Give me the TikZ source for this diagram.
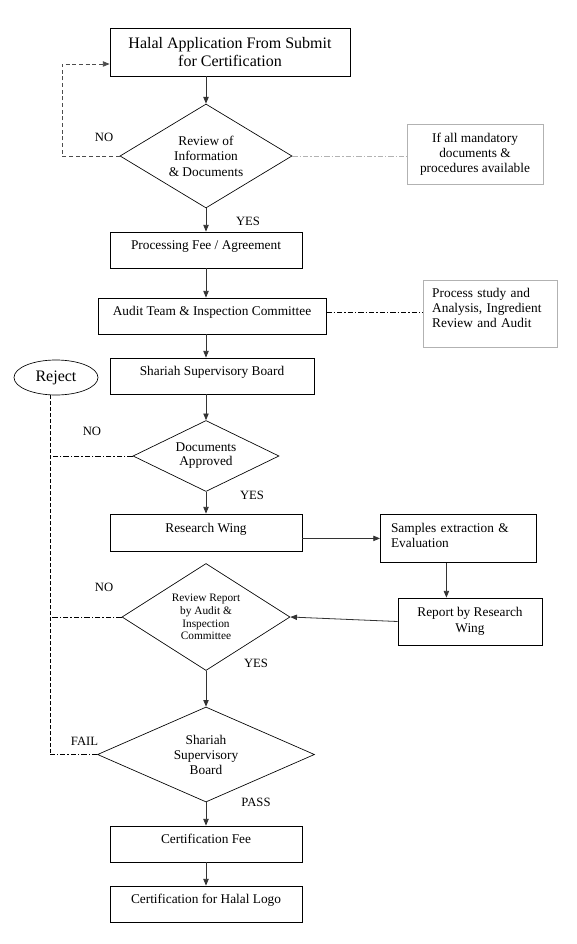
\documentclass[tikz,border=0pt]{standalone}
\usepackage{fontspec}
\setmainfont{Liberation Serif}
\usepackage{tikz}
\usetikzlibrary{shapes.geometric,arrows.meta}

\begin{document}
\begin{tikzpicture}[x=0.75pt,y=-0.75pt,
    font=\fontsize{10}{11.5}\selectfont,
    >={Triangle[length=5pt,width=4pt]},
    box/.style={draw, line width=0.6pt, inner sep=0pt},
    onel/.style={box, text height=7pt, text depth=7.5pt},
    dia/.style={draw, diamond, line width=0.5pt, inner sep=0pt, align=center},
    note/.style={draw=black!30, line width=0.6pt, inner sep=0pt},
    lbl/.style={font=\fontsize{9.5}{11}\selectfont},
    flow/.style={->, line width=0.6pt, black!80},
    dd/.style={line width=0.5pt, dash pattern=on 4pt off 1.5pt on 1pt off 1.5pt}]
    \useasboundingbox (0,0) rectangle (576,944);

    \node[box, minimum width=180pt, minimum height=36pt, align=center,
          font=\fontsize{12}{13.5}\selectfont] (app) at (230,52) {Halal Application From Submit\\for Certification};
    \node[dia, minimum width=129pt, minimum height=78pt, aspect=1.65,
          font=\fontsize{10}{11.6}\selectfont] (rev) at (206,156) {Review of\\Information\\\& Documents};
    \node[note, minimum width=102pt, minimum height=45pt, align=center,
          font=\fontsize{10}{11.25}\selectfont] (chk) at (475,154) {If all mandatory\\documents \&\\procedures available};
    \node[onel, minimum width=144pt, minimum height=27pt] (fee) at (206,250) {Processing Fee / Agreement};
    \node[onel, minimum width=171pt, minimum height=27pt] (audit) at (212,316) {Audit Team \& Inspection Committee};
    \node[note, anchor=north west, text width=87pt, inner xsep=7pt, text height=13pt, text depth=37pt,
          align=left, font=\fontsize{10}{11.25}\selectfont] (study) at (422.5,280) {Process study and\\Analysis, Ingredient\\Review and Audit};
    \node[onel, minimum width=153pt, minimum height=27pt] (ssb) at (212,376) {Shariah Supervisory Board};
    \node[draw, ellipse, line width=0.5pt, minimum width=63pt, minimum height=26.25pt, inner sep=0pt,
          font=\fontsize{12}{14}\selectfont] (rej) at (56,377.5) {Reject};
    \node[dia, minimum width=109.5pt, minimum height=53.25pt, aspect=2.06,
          font=\fontsize{10}{10.5}\selectfont] (docs) at (206,456) {Documents\\Approved};
    \node[onel, minimum width=144pt, minimum height=27.75pt] (rw) at (206,532.5) {Research Wing};
    \node[box, anchor=north west, text width=101pt, inner xsep=8pt, text height=13.8pt, text depth=22.2pt,
          align=left, font=\fontsize{10}{11.25}\selectfont] (samp) at (380,514) {Samples extraction \&\\Evaluation};
    \node[box, minimum width=108pt, minimum height=35.25pt, align=center,
          font=\fontsize{10}{12}\selectfont] (rep) at (470,621.5) {Report by Research\\Wing};
    \node[dia, minimum width=126pt, minimum height=80.25pt, aspect=1.57,
          font=\fontsize{8.5}{9.5}\selectfont] (rr) at (206,617) {Review Report\\by Audit \&\\Inspection\\Committee};
    \node[dia, minimum width=162.75pt, minimum height=71.25pt, aspect=2.28,
          font=\fontsize{10}{11.25}\selectfont] (board) at (206,754.5) {Shariah\\Supervisory\\Board};
    \node[onel, minimum width=144pt, minimum height=27pt] (cfee) at (206,844) {Certification Fee};
    \node[onel, minimum width=144pt, minimum height=27pt] (logo) at (206,904) {Certification for Halal Logo};

    \node[lbl] (no1) at (104,137) {NO};
    \node[lbl] (yes1) at (248,221) {YES};
    \node[lbl] (no2) at (92,431) {NO};
    \node[lbl] (yes2) at (252,495) {YES};
    \node[lbl] (no3) at (104,587) {NO};
    \node[lbl] (yes3) at (256,663) {YES};
    \node[lbl] (fail) at (84.5,741) {FAIL};
    \node[lbl] (pass) at (256,802) {PASS};

    \draw[flow] (app.south -| rev.north) -- (rev.north);
    \draw[flow] (rev.south) -- (fee.north);
    \draw[flow] (fee.south) -- (fee.south |- audit.north);
    \draw[flow] (audit.south -| fee) -- (ssb.north -| fee);
    \draw[flow] (ssb.south -| docs) -- (docs.north);
    \draw[flow] (docs.south) -- (rw.north);
    \draw[flow] (rw.east |- samp.west) -- (samp.west);
    \draw[flow] ([xshift=-9pt]samp.south) -- ([xshift=-9pt]samp.south |- rep.north);
    \draw[flow] (rep.west) -- (rr.east);
    \draw[flow] (rr.south) -- (board.north);
    \draw[flow] (board.south) -- (cfee.north);
    \draw[flow] (cfee.south) -- (logo.north);

    % regreso a la solicitud
    \coordinate (back) at (62,156);
    \draw[->, black!70, line width=0.6pt, dash pattern=on 3pt off 2pt] (rev.west) -- (back) |- ([yshift=-9pt]app.west);

    \draw[dd, black!30] (rev.east) -- (rev.east -| chk.west);
    \draw[dd] ([yshift=3pt]audit.east) -- ([yshift=3pt]audit.east -| study.west);

    % linea de rechazo
    \coordinate (rb) at (50,754.5);
    \draw[line width=0.5pt, dash pattern=on 3pt off 1.5pt] (rej.south -| rb) -- (rb);
    \draw[dd] (docs.west) -- (docs.west -| rb);
    \draw[dd] (rr.west) -- (rr.west -| rb);
    \draw[dd] (board.west) -- (rb);
\end{tikzpicture}
\end{document}
